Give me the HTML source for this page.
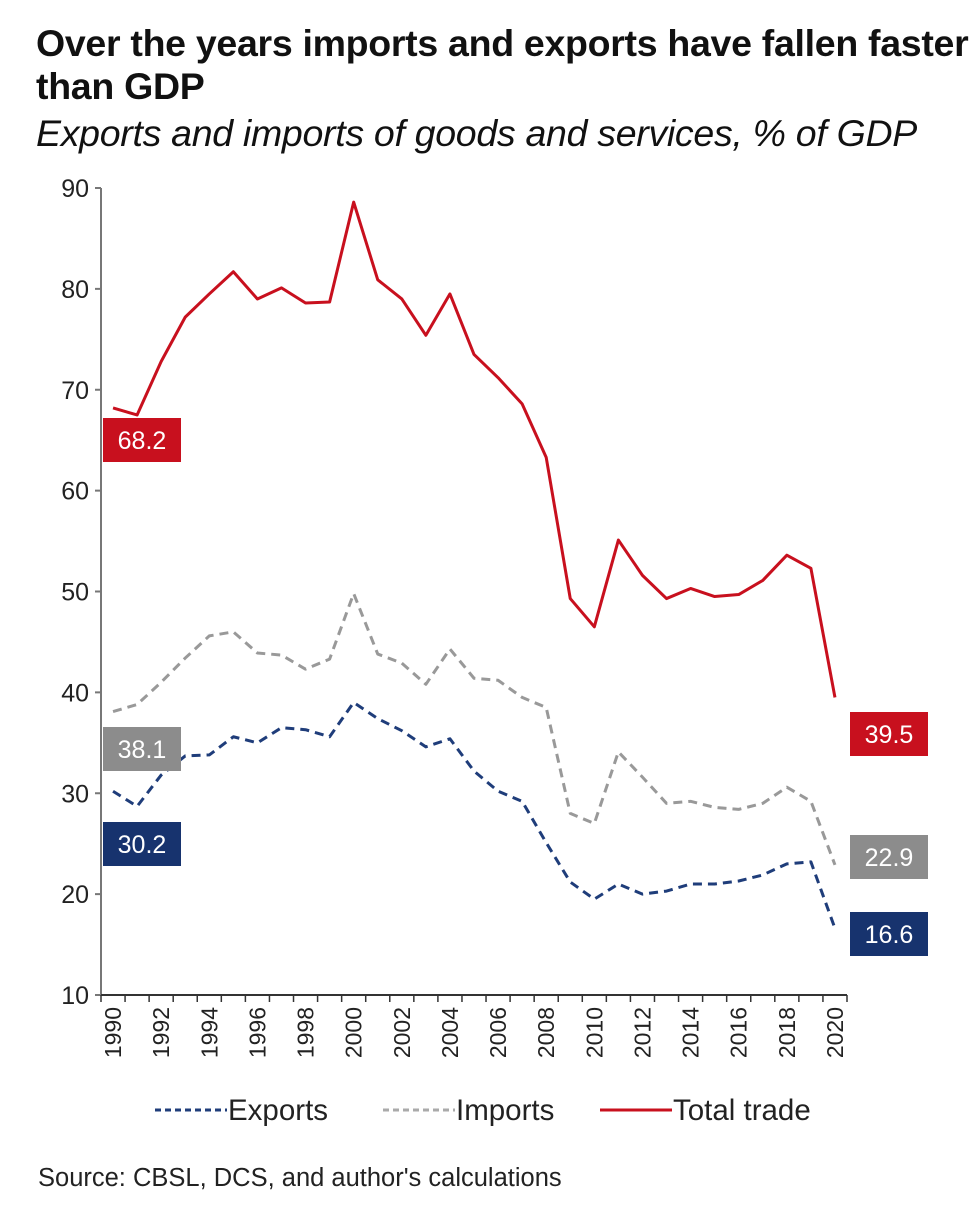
<!DOCTYPE html>
<html><head><meta charset="utf-8"><style>
body{margin:0;background:#fff;font-family:"Liberation Sans",sans-serif;}
#wrap{position:relative;width:980px;height:1222px;overflow:hidden}
.t{position:absolute;left:36px;font-weight:bold;font-size:37.5px;line-height:43px;color:#111;letter-spacing:-0.3px;white-space:nowrap}
</style></head><body><div id="wrap">
<div class="t" style="top:22px">Over the years imports and exports have fallen faster<br>than GDP</div>
<div style="position:absolute;left:36px;top:112px;font-style:italic;font-size:37.5px;color:#111;white-space:nowrap;letter-spacing:-0.3px">Exports and imports of goods and services, % of GDP</div>
<svg id="c" width="980" height="1222" style="position:absolute;left:0;top:0"></svg>
<div style="position:absolute;left:38px;top:1164px;font-size:25.5px;color:#222;white-space:nowrap">Source: CBSL, DCS, and author's calculations</div>
</div>
<script>
const years=[];for(let y=1990;y<=2020;y++)years.push(y);
const total=[68.2,67.5,72.8,77.2,79.5,81.7,79,80.1,78.6,78.7,88.6,80.9,79,75.4,79.5,73.5,71.2,68.6,63.3,49.3,46.5,55.1,51.6,49.3,50.3,49.5,49.7,51.1,53.6,52.3,39.5];
const imports=[38.1,38.8,41,43.4,45.6,46,43.9,43.7,42.3,43.3,49.8,43.8,42.9,40.8,44.3,41.4,41.2,39.5,38.5,28,27,34.1,31.6,29,29.2,28.6,28.4,29,30.6,29.2,22.9];
const exportsS=[30.2,28.7,31.8,33.7,33.8,35.6,35,36.5,36.3,35.6,39,37.4,36.2,34.6,35.4,32.2,30.2,29.2,25.1,21.2,19.5,21,20,20.3,21,21,21.3,21.9,23,23.2,16.6];
const yTicks=[10,20,30,40,50,60,70,80,90];
const ns="http://www.w3.org/2000/svg",svg=document.getElementById('c');
const X0=101,X1=847,Y0=995,Y1=188;
const bw=(X1-X0)/years.length;
const xs=i=>X0+bw*(i+0.5), ys=v=>Y0-(v-10)/80*(Y0-Y1);
function el(t,a,p){const e=document.createElementNS(ns,t);for(const k in a)e.setAttribute(k,a[k]);(p||svg).appendChild(e);return e;}
let e=el('line',{x1:X0,y1:Y1,x2:X0,y2:Y0,stroke:'#777','stroke-width':2});

e=el('line',{x1:X0,y1:Y0,x2:X1,y2:Y0,stroke:'#333','stroke-width':2});

yTicks.forEach(v=>{el('line',{x1:X0-6,x2:X0,y1:ys(v),y2:ys(v),stroke:'#777','stroke-width':2});
 const t=el('text',{x:89,y:ys(v)+9,'text-anchor':'end','font-size':25,fill:'#222'});t.textContent=v;
 });
for(let i=0;i<=years.length;i++)el('line',{x1:X0+bw*i,x2:X0+bw*i,y1:Y0,y2:Y0+7,stroke:'#333','stroke-width':1.5});
years.forEach((y,i)=>{if(i%2)return;const t=el('text',{x:0,y:0,'text-anchor':'end','font-size':23,fill:'#222',transform:`translate(${xs(i)+8},${Y0+12}) rotate(-90)`});t.textContent=y;
 });
function line(d,c,dash,name){const p=el('polyline',{points:d.map((v,i)=>xs(i)+','+ys(v)).join(' '),fill:'none',stroke:c,'stroke-width':3,'stroke-dasharray':dash,'stroke-linejoin':'round'});
 }
line(imports,'#999','9,6','imports-line');
line(exportsS,'#1f3d7a','9,6','exports-line');
line(total,'#c8101e','none','total-trade-line');
function lab(x,y,txt,bg,name){const r=el('rect',{x:x,y:y,width:78,height:44,fill:bg});
 
 const t=el('text',{x:x+39,y:y+31,'text-anchor':'middle','font-size':25,fill:'#fff'});t.textContent=txt;}
lab(103,418,total[0].toFixed(1),'#c8101e','label-total-1990');
lab(103,727,imports[0].toFixed(1),'#8c8c8c','label-imports-1990');
lab(103,822,exportsS[0].toFixed(1),'#17336e','label-exports-1990');
lab(850,712,total[30].toFixed(1),'#c8101e','label-total-2020');
lab(850,835,imports[30].toFixed(1),'#8c8c8c','label-imports-2020');
lab(850,912,exportsS[30].toFixed(1),'#17336e','label-exports-2020');
[[155,'#1f3d7a','6,4','Exports'],[383,'#aaa','6,4','Imports'],[600,'#c8101e','none','Total trade']].forEach(([x,c,d,n])=>{
 const g=el('g',{});
 el('line',{x1:x,x2:x+72,y1:1110,y2:1110,stroke:c,'stroke-width':3,'stroke-dasharray':d},g);
 const t=el('text',{x:x+73,y:1120,'font-size':29.5,fill:'#222'},g);t.textContent=n;});
</script></body></html>
